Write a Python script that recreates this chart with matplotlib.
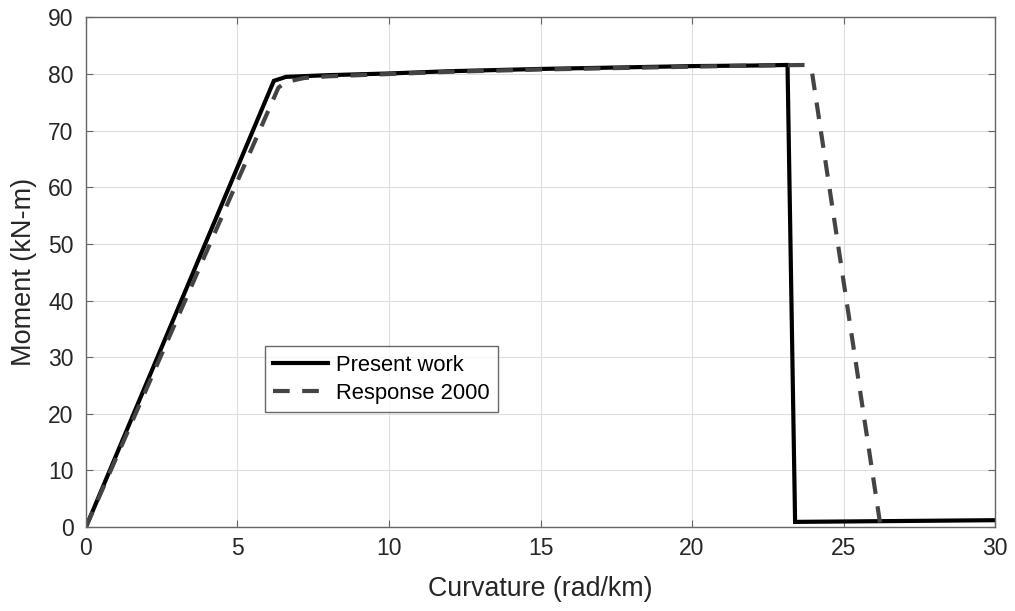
import matplotlib
matplotlib.use("Agg")
import matplotlib.pyplot as plt

plt.rcParams['font.family'] = ['Liberation Sans', 'DejaVu Sans']

present_x = [0, 6.2, 6.6, 8, 10, 12, 15, 18, 20, 22, 23.15, 23.4, 30]
present_y = [0, 78.8, 79.5, 79.8, 80.1, 80.5, 80.9, 81.2, 81.4, 81.5, 81.6, 0.9, 1.2]

resp_x = [0, 6.35, 6.6, 7.2, 8, 10, 12, 15, 18, 20, 22, 23.75, 23.95, 26.2]
resp_y = [0, 77.6, 78.6, 79.3, 79.6, 80.0, 80.4, 80.8, 81.1, 81.3, 81.5, 81.6, 80.6, 0.8]

xticks = [0, 5, 10, 15, 20, 25, 30]
yticks = [0, 10, 20, 30, 40, 50, 60, 70, 80, 90]

fig = plt.figure(figsize=(10.15, 6.11), dpi=100)
ax = fig.add_axes([0.0847, 0.1375, 0.8957, 0.834])

ax.plot(present_x, present_y, color='black', lw=3, label='Present work', solid_joinstyle='miter')
ax.plot(resp_x, resp_y, color='#444444', lw=3, ls=(0, (4, 3)), label='Response 2000')

ax.set_xlim(0, 30)
ax.set_ylim(0, 90)
ax.set_xticks(xticks)
ax.set_yticks(yticks)
ax.grid(True, color='#dedede', lw=0.8)
ax.set_axisbelow(True)
for s in ax.spines.values():
    s.set_color('#666666')
    s.set_linewidth(1.0)
ax.tick_params(direction='in', top=True, right=True, length=5, colors='#666666',
               labelcolor='#262626', labelsize=16.5)
ax.tick_params(axis='y', pad=9)
ax.tick_params(axis='x', pad=7)
ax.set_xlabel('Curvature (rad/km)', fontsize=19.3, color='#262626', labelpad=12)
ax.set_ylabel('Moment (kN-m)', fontsize=19.5, color='#262626', labelpad=8)

leg = ax.legend(loc='lower left', bbox_to_anchor=(0.1965, 0.225), fontsize=15.8,
                frameon=True, fancybox=False, edgecolor='#444444', handlelength=2.5,
                handletextpad=0.35, borderaxespad=0, borderpad=0.4, labelspacing=0.3)
leg.get_frame().set_linewidth(1.0)

fig.savefig('out.png', dpi=100)
